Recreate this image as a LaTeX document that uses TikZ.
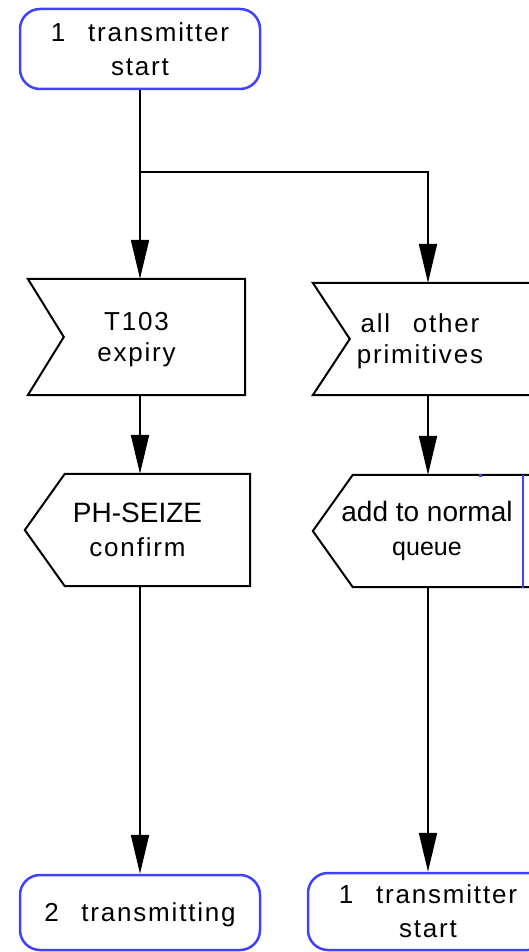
\documentclass[tikz,border=0pt]{standalone}
\usepackage{fontspec}
\setmainfont{Liberation Sans}
\newfontfamily\spc[LetterSpace=7,WordSpace=2.5]{Liberation Sans}
\newfontfamily\nospc{Liberation Sans}
\usetikzlibrary{arrows.meta}
\definecolor{stateblue}{RGB}{64,64,255}

\begin{document}
\begin{tikzpicture}[x=1pt,y=-1pt,
  state/.style={draw=stateblue,line width=2.5pt,rounded corners=20pt,
    minimum width=240pt,inner sep=0pt,align=center},
  sig/.style={inner sep=0pt,align=center},
  recvtext/.style={sig,text depth=0pt,font=\spc\fontsize{26}{31}\selectfont},
  outline/.style={line width=2pt,line join=miter},
  flow/.style={line width=2pt,-{Triangle[length=39pt,width=18pt]}},
  font=\spc\fontsize{26}{34}\selectfont]
  \useasboundingbox (0,0) rectangle (529,952);
  \clip (0,0) rectangle (529,952);

  % states
  \node[state,minimum height=80pt] (start1) at (140,49) {1 transmitter\\start};
  \node[state,minimum height=75pt,text depth=0pt] (end2) at (140,912.5) {2 transmitting};
  \node[state,minimum height=77pt] (end1) at (428,911.5) {1 transmitter\\start};

  % inputs
  \node[recvtext,minimum width=217pt,minimum height=116pt] (recvT) at (136.5,337) {T103\\expiry};
  \draw[outline] (recvT.north west) -- (recvT.north east) -- (recvT.south east)
    -- (recvT.south west) -- ([xshift=36pt]recvT.west) -- cycle;
  \node[recvtext,minimum width=214pt,minimum height=112pt] (recvO) at (420,339) {all other\\primitives};
  \draw[outline] ([xshift=40pt]recvO.north east) -- (recvO.north west)
    -- ([xshift=37pt]recvO.west) -- (recvO.south west) -- ([xshift=40pt]recvO.south east);

  % outputs
  \node[sig,minimum width=225pt,minimum height=112pt] (sendP) at (137.5,530)
    {{\nospc\fontsize{28}{34}\selectfont PH-SEIZE}\\confirm};
  \draw[outline] ([xshift=40pt]sendP.north west) -- (sendP.north east) -- (sendP.south east)
    -- ([xshift=40pt]sendP.south west) -- (sendP.west) -- cycle;
  \node[sig,minimum width=228pt,minimum height=112pt] (sendQ) at (427,531)
    {{\nospc\fontsize{28}{34}\selectfont add to normal}\\{\nospc\fontsize{25}{34}\selectfont queue}};
  \draw[outline] ([xshift=20pt]sendQ.north east) -- ([xshift=40pt]sendQ.north west)
    -- (sendQ.west) -- ([xshift=40pt]sendQ.south west) -- ([xshift=20pt]sendQ.south east);
  \draw[stateblue,line width=2pt] (523,475) -- (523,588);
  \fill[stateblue] (479,474) rectangle (482,477);

  % connectors
  \coordinate (jn) at (140,172);
  \draw[line width=2pt] (start1.south) -- (jn);
  \draw[flow] (jn) -- (recvT.north -| jn);
  \draw[flow] (jn) -| (recvO.north -| end1.north);
  \draw[flow] (recvT.south -| jn) -- (sendP.north -| jn);
  \draw[flow] (recvO.south -| end1.north) -- (sendQ.north -| end1.north);
  \draw[flow] (sendP.south -| jn) -- (end2.north);
  \draw[flow] (sendQ.south -| end1.north) -- (end1.north);
\end{tikzpicture}
\end{document}
